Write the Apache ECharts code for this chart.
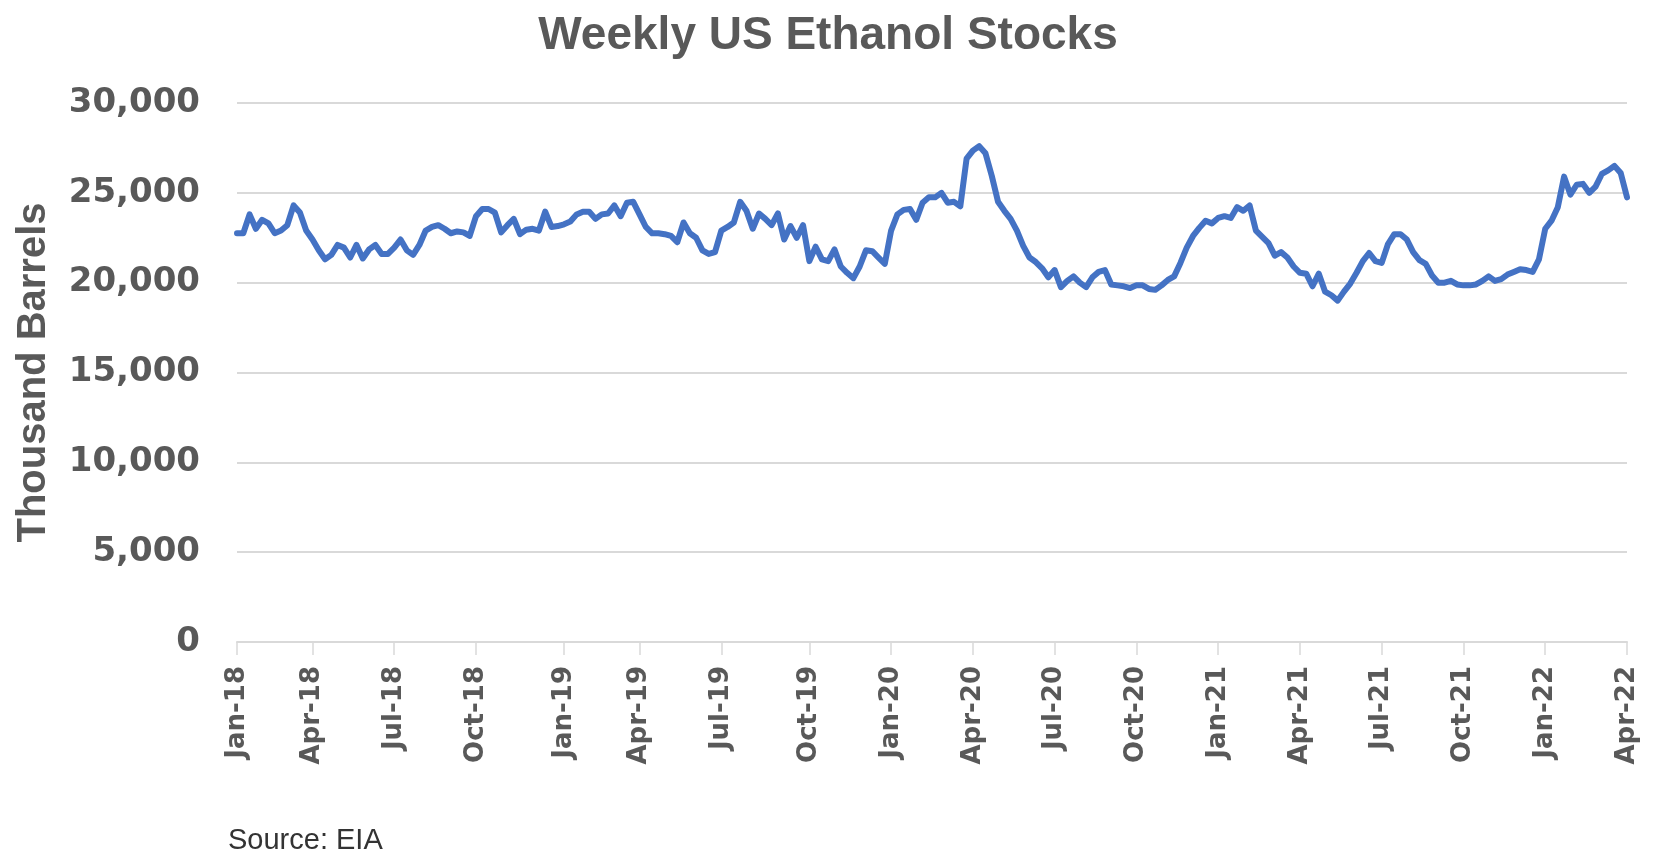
<!DOCTYPE html>
<html><head><meta charset="utf-8">
<script src="https://cdn.jsdelivr.net/npm/echarts@6/dist/echarts.min.js"></script>
<style>html,body{margin:0;padding:0;background:#fff}#c{width:1656px;height:850px}</style>
</head><body><div id="c"></div>
<script>
// Weekly US ethanol stocks, thousand barrels (weeks ending Friday, from 2018-01-05)
const stocks2018 = [22750,22750,23800,23000,23500,23300,22750,22900,23200,24300,23900,22900,22400,21800,21300,21550,22100,21950,21400,22100,21350,21850,22100,21600,21600,21950,22400,21800,21550,22100,22900,23100,23200,23000,22750,22850,22800,22600,23700,24100,24100,23900,22800,23200,23550,22700,22950,23000,22900,23950,23100,23150];
const stocks2019 = [23250,23400,23800,23950,23950,23550,23800,23850,24300,23700,24450,24500,23800,23100,22750,22750,22700,22600,22250,23350,22750,22500,21800,21600,21700,22900,23100,23350,24500,24000,23000,23850,23550,23200,23850,22400,23150,22500,23200,21200,22000,21300,21200,21850,20900,20550,20250,20900,21800,21750,21400,21050];
const stocks2020 = [22900,23800,24050,24100,23500,24450,24750,24750,25000,24450,24500,24250,26900,27350,27600,27200,25950,24500,24000,23550,22900,22050,21400,21150,20800,20300,20700,19750,20100,20350,20000,19750,20300,20600,20700,19900,19850,19800,19700,19850,19850,19650,19600,19850,20150,20350,21100,21950,22600,23050,23450,23300];
const stocks2021 = [23600,23700,23600,24200,24000,24300,22900,22550,22200,21500,21700,21400,20900,20550,20500,19800,20500,19500,19300,19000,19500,19950,20550,21200,21650,21200,21100,22150,22700,22700,22400,21700,21250,21050,20400,20000,20000,20100,19900,19850,19850,19900,20100,20350,20100,20200,20450,20600,20750,20700,20600,21300,23000];
const stocks2022 = [23450,24200,25900,24900,25450,25500,25000,25350,26050,26250,26500,26100,24750];

const tickLabels = ['Jan-18','Apr-18','Jul-18','Oct-18','Jan-19','Apr-19','Jul-19','Oct-19','Jan-20','Apr-20','Jul-20','Oct-20','Jan-21','Apr-21','Jul-21','Oct-21','Jan-22','Apr-22'];
const monthNames = ['Jan','Feb','Mar','Apr','May','Jun','Jul','Aug','Sep','Oct','Nov','Dec'];

const values = [].concat(stocks2018, stocks2019, stocks2020, stocks2021, stocks2022);
const DAY = 86400000;
const t0 = Date.UTC(2018, 0, 5);
const weeks = values.map((v, k) => new Date(t0 + k * 7 * DAY).toISOString().slice(0, 10));

// put each quarterly label on the week nearest to the first of that month
const tickAt = {};
tickLabels.forEach(lbl => {
  const m = monthNames.indexOf(lbl.slice(0, 3));
  const y = 2000 + parseInt(lbl.slice(4), 10);
  const t = Date.UTC(y, m, 1);
  let best = 0, bd = Infinity;
  weeks.forEach((w, k) => { const d = Math.abs(t0 + k * 7 * DAY - t); if (d < bd) { bd = d; best = k; } });
  tickAt[best] = lbl;
});
const isTick = (i) => Object.prototype.hasOwnProperty.call(tickAt, i);

const chart = echarts.init(document.getElementById('c'), null, {renderer: 'canvas'});
chart.setOption({
  animation: false,
  backgroundColor: '#ffffff',
  title: {
    text: 'Weekly US Ethanol Stocks',
    left: 'center', top: 8,
    textStyle: {fontFamily: 'Liberation Sans', fontWeight: 'bold', fontSize: 46, color: '#595959'}
  },
  grid: {left: 237, right: 29, top: 103, bottom: 208, containLabel: false, outerBoundsMode: 'none'},
  xAxis: {
    type: 'category',
    data: weeks,
    boundaryGap: false,
    axisLine: {show: true, lineStyle: {color: '#d9d9d9', width: 2}},
    axisTick: {show: true, interval: isTick, length: 13, lineStyle: {color: '#d9d9d9', width: 1.5}},
    axisLabel: {
      interval: isTick, rotate: 90, margin: 24,
      formatter: (v, i) => tickAt[i] || '',
      fontFamily: 'DejaVu Sans', fontWeight: 'bold', fontSize: 26, color: '#595959'
    },
    splitLine: {show: false}
  },
  yAxis: {
    type: 'value', min: 0, max: 30000, interval: 5000,
    name: 'Thousand Barrels', nameLocation: 'middle', nameGap: 183,
    nameTextStyle: {fontFamily: 'Liberation Sans', fontWeight: 'bold', fontSize: 40, color: '#595959'},
    axisLine: {show: false}, axisTick: {show: false},
    axisLabel: {
      margin: 37,
      formatter: v => v.toLocaleString('en-US'),
      fontFamily: 'DejaVu Sans', fontWeight: 'bold', fontSize: 34, color: '#595959'
    },
    splitLine: {lineStyle: {color: '#d9d9d9', width: 2}}
  },
  series: [{
    type: 'line',
    data: values,
    showSymbol: false,
    symbol: 'none',
    lineStyle: {color: '#4472C4', width: 6, cap: 'round', join: 'round'},
    z: 3
  }],
  graphic: [{
    type: 'text', x: 228, y: 841,
    style: {text: 'Source: EIA', fontFamily: 'Liberation Sans', fontSize: 29, fill: '#333333', align: 'left', verticalAlign: 'middle'}
  }]
});
</script></body></html>
